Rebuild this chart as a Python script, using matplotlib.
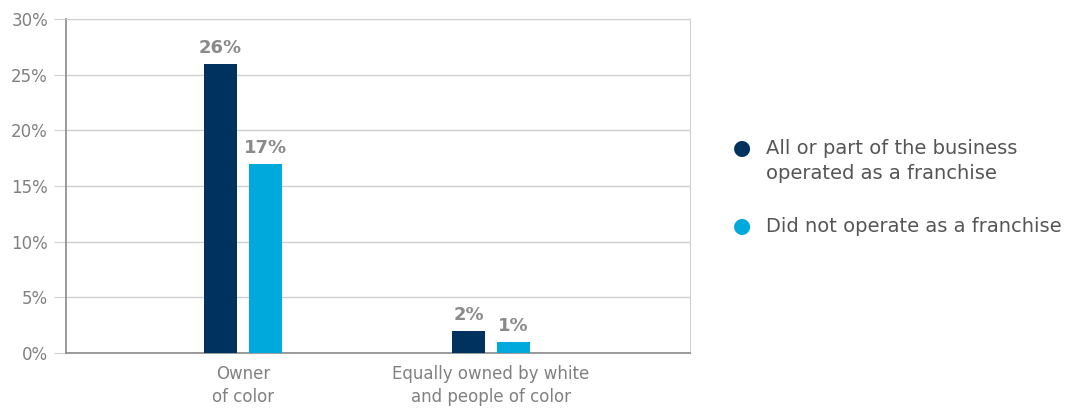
import matplotlib.pyplot as plt
import numpy as np

categories = ["Owner\nof color", "Equally owned by white\nand people of color"]
franchise = [26, 2]
no_franchise = [17, 1]
series_names = ["All or part of the business\noperated as a franchise",
                "Did not operate as a franchise"]
yticks = [0, 5, 10, 15, 20, 25, 30]

dark = "#00325f"
light = "#00a9dc"
grey = "#808080"

plt.rcParams['font.family'] = ['DejaVu Sans']

fig = plt.figure(figsize=(10.82, 4.09), dpi=100)
ax = fig.add_axes([0.061, 0.137, 0.5766, 0.8165])

x = np.arange(len(categories))
w = 0.133
off = 0.0907
b1 = ax.bar(x - off, franchise, w, color=dark, zorder=3)
b2 = ax.bar(x + off, no_franchise, w, color=light, zorder=3)

for bars, vals in ((b1, franchise), (b2, no_franchise)):
    for r, v in zip(bars, vals):
        ax.text(r.get_x() + r.get_width() / 2, v + 0.6, "%d%%" % v,
                ha="center", va="bottom", fontsize=13, fontweight="bold",
                color="#8a8a8a")

ax.set_xlim(-0.714, 1.802)
ax.set_ylim(0, 30)
ax.set_yticks(yticks)
ax.set_yticklabels(["%d%%" % t for t in yticks], fontsize=12, color=grey)
ax.set_xticks(x)
ax.set_xticklabels(categories, fontsize=12, color=grey, linespacing=1.3)
ax.tick_params(axis="x", length=0, pad=9)
ax.tick_params(axis="y", length=9, color="#d0d0d0", pad=4)
ax.grid(axis="y", color="#d0d0d0", linewidth=1, zorder=0)

for s in ("top", "right"):
    ax.spines[s].set_color("#d0d0d0")
for s in ("left", "bottom"):
    ax.spines[s].set_color("#8a8a8a")
    ax.spines[s].set_linewidth(1.2)

# legend
fig.text(0.686, 1 - 148 / 409, "\u25cf", color=dark, fontsize=15, ha="center", va="center")
fig.text(0.708, 1 - 161 / 409, series_names[0], fontsize=14, color="#555555",
         va="center", linespacing=1.35)
fig.text(0.686, 1 - 226 / 409, "\u25cf", color=light, fontsize=15, ha="center", va="center")
fig.text(0.708, 1 - 226 / 409, series_names[1], fontsize=14, color="#555555",
         va="center")

fig.savefig("out.png", dpi=100)
